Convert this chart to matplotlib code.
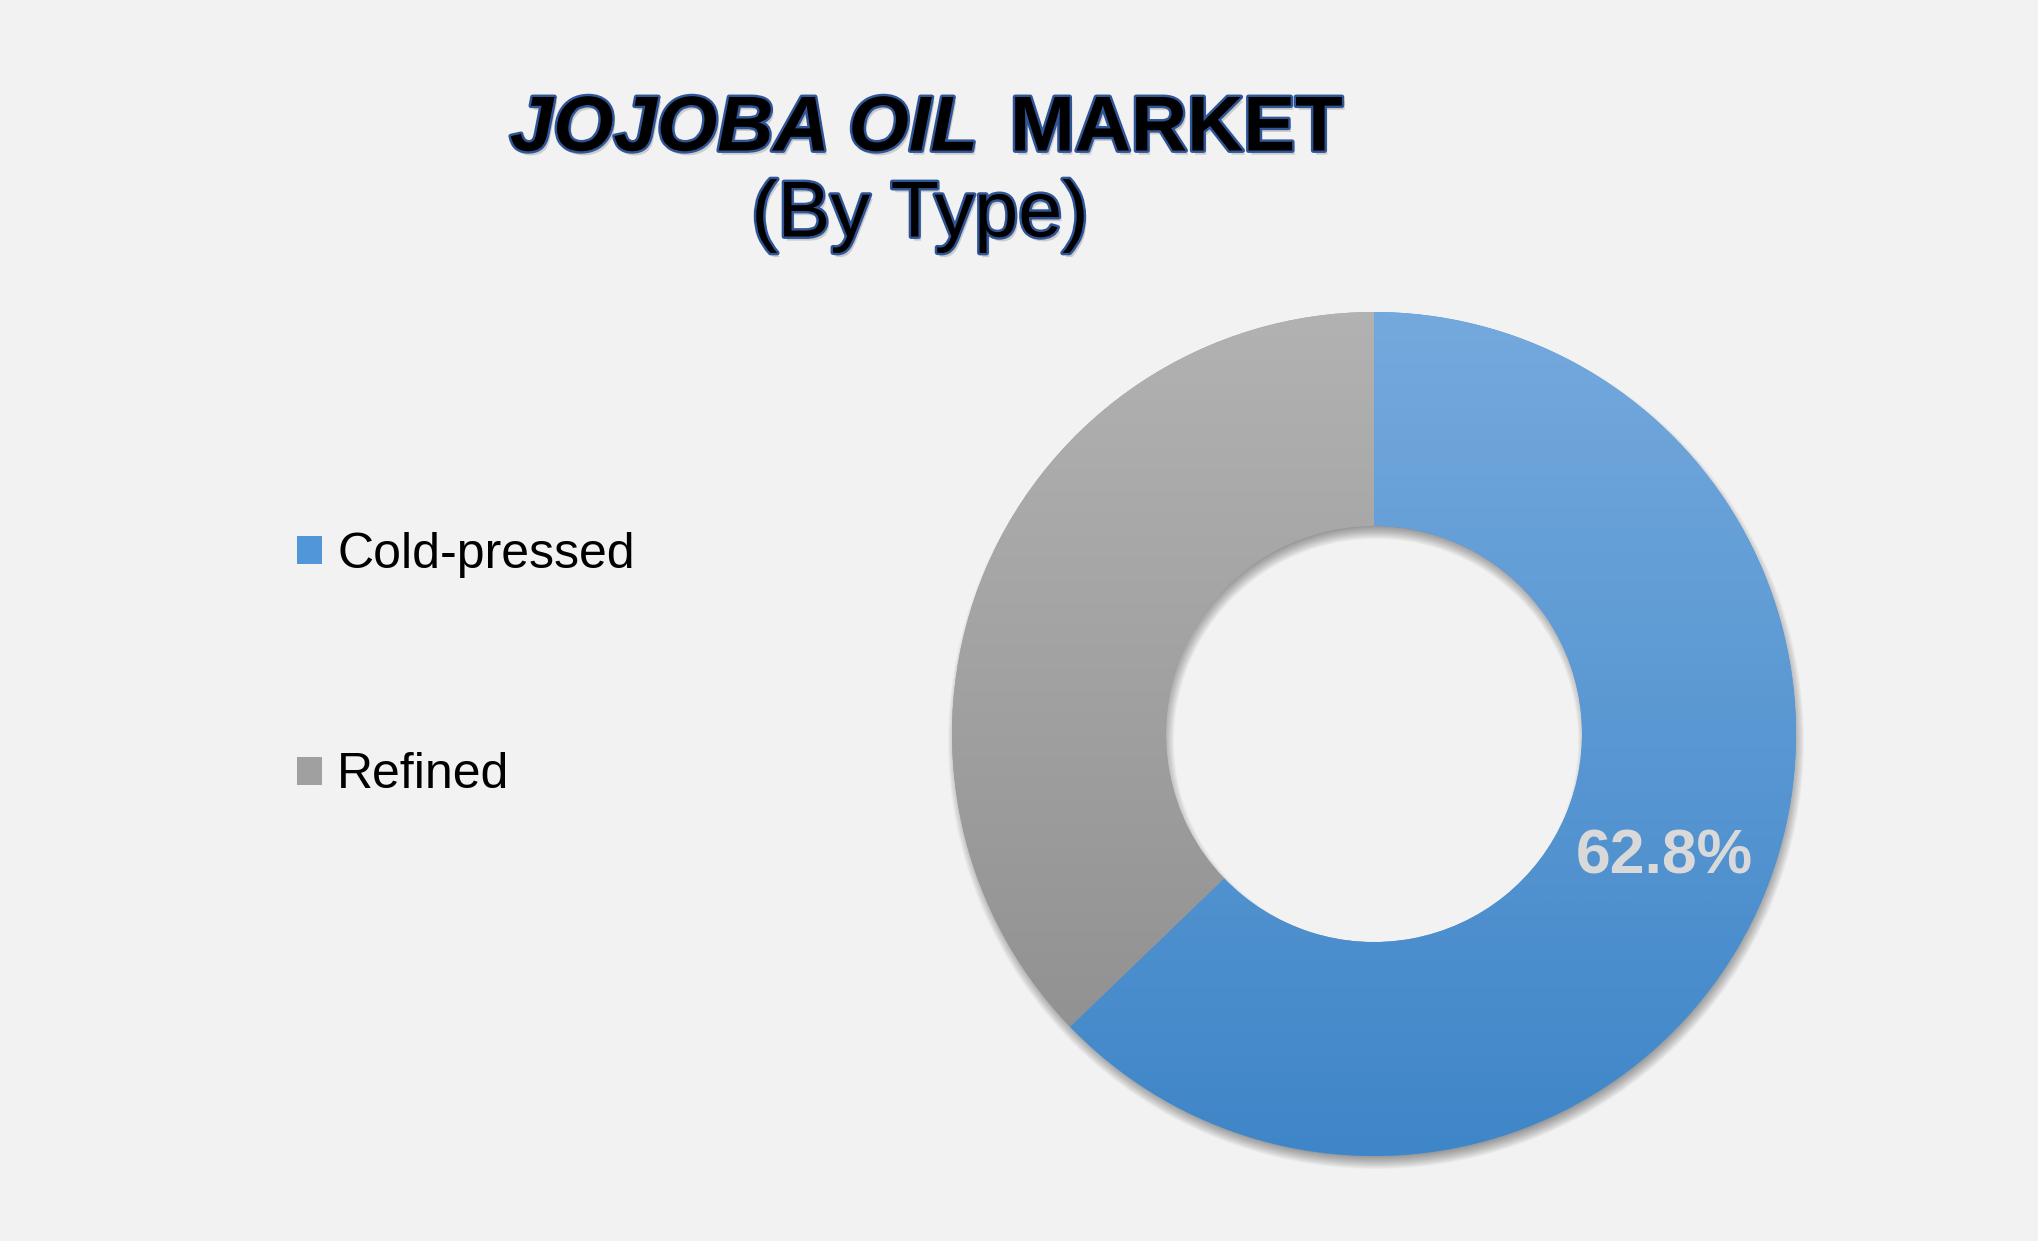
import numpy as np
import matplotlib
matplotlib.use('Agg')
import matplotlib.pyplot as plt
import matplotlib.patheffects as pe
from matplotlib.patches import Wedge
from matplotlib.colors import LinearSegmentedColormap

plt.rcParams['font.family'] = ['Liberation Sans', 'DejaVu Sans']

# data
types = ['Cold-pressed', 'Refined']
shares = [62.8, 37.2]
top_colors = ['#74a9dd', '#b2b2b2']
bottom_colors = ['#3f86c8', '#8c8c8c']
mid_colors = ['#5096d8', '#a0a0a0']

W, H = 2038, 1241
fig = plt.figure(figsize=(W / 100, H / 100), dpi=100, facecolor='#f2f2f2')
ax = fig.add_axes([0, 0, 1, 1])
ax.set_facecolor('#f2f2f2')

cx, cy = 1374, H - 734
r = 422
ring = r * 0.507

# soft drop shadow under the donut (also shows inside the hole at the top)
for s in np.arange(-6, 7):
    sh = Wedge((cx + 2, cy - 7), r + s, 0, 360, width=ring + 2 * s,
               facecolor='black', edgecolor='none', alpha=0.03, zorder=1)
    ax.add_patch(sh)

wedges, _, autotexts = ax.pie(
    shares, colors=mid_colors, startangle=90, counterclock=False,
    radius=r, center=(cx, cy), frame=True,
    wedgeprops=dict(width=ring, edgecolor='none', zorder=2),
    autopct=lambda p: f'{p:.1f}%' if p > 50 else '',
    pctdistance=(r - ring / 2) / r,
    textprops=dict(color='#d9d9d9', fontsize=45, fontweight='bold'))
for t in autotexts:
    t.set_zorder(5)

# vertical gradient fill for each slice
grad = np.linspace(0, 1, 256).reshape(-1, 1)
for w, c_top, c_bot in zip(wedges, top_colors, bottom_colors):
    cmap = LinearSegmentedColormap.from_list('g', [c_bot, c_top])
    im = ax.imshow(grad, extent=[cx - r, cx + r, cy - r, cy + r], origin='lower',
                   cmap=cmap, aspect='auto', zorder=3, interpolation='bilinear')
    im.set_clip_path(w)

ax.set_xlim(0, W)
ax.set_ylim(0, H)
ax.axis('off')

# title
title_fx = [pe.SimplePatchShadow(offset=(2, -3), shadow_rgbFace='#777777', alpha=0.3),
            pe.Stroke(linewidth=3.5, foreground='#2f5597'), pe.Normal()]
fig.text(978 / W, 1 - 130 / H, 'JOJOBA OIL', ha='right', va='center', fontsize=56,
         fontweight='bold', fontstyle='italic', color='black', path_effects=title_fx)
fig.text(1010 / W, 1 - 130 / H, 'MARKET', ha='left', va='center', fontsize=56,
         fontweight='bold', color='black', path_effects=title_fx)
fig.text(920 / W, 1 - 216 / H, '(By Type)', ha='center', va='center', fontsize=57,
         color='black', path_effects=title_fx)

# legend
ax.legend(wedges, types, loc='center left', bbox_to_anchor=(297 / W, 1 - 665 / H),
          bbox_transform=fig.transFigure, frameon=False, fontsize=36,
          handlelength=0.5, handleheight=0.5, handletextpad=0.3,
          labelspacing=3.5, borderpad=0, borderaxespad=0)

fig.savefig('out.png', dpi=100, facecolor=fig.get_facecolor())
